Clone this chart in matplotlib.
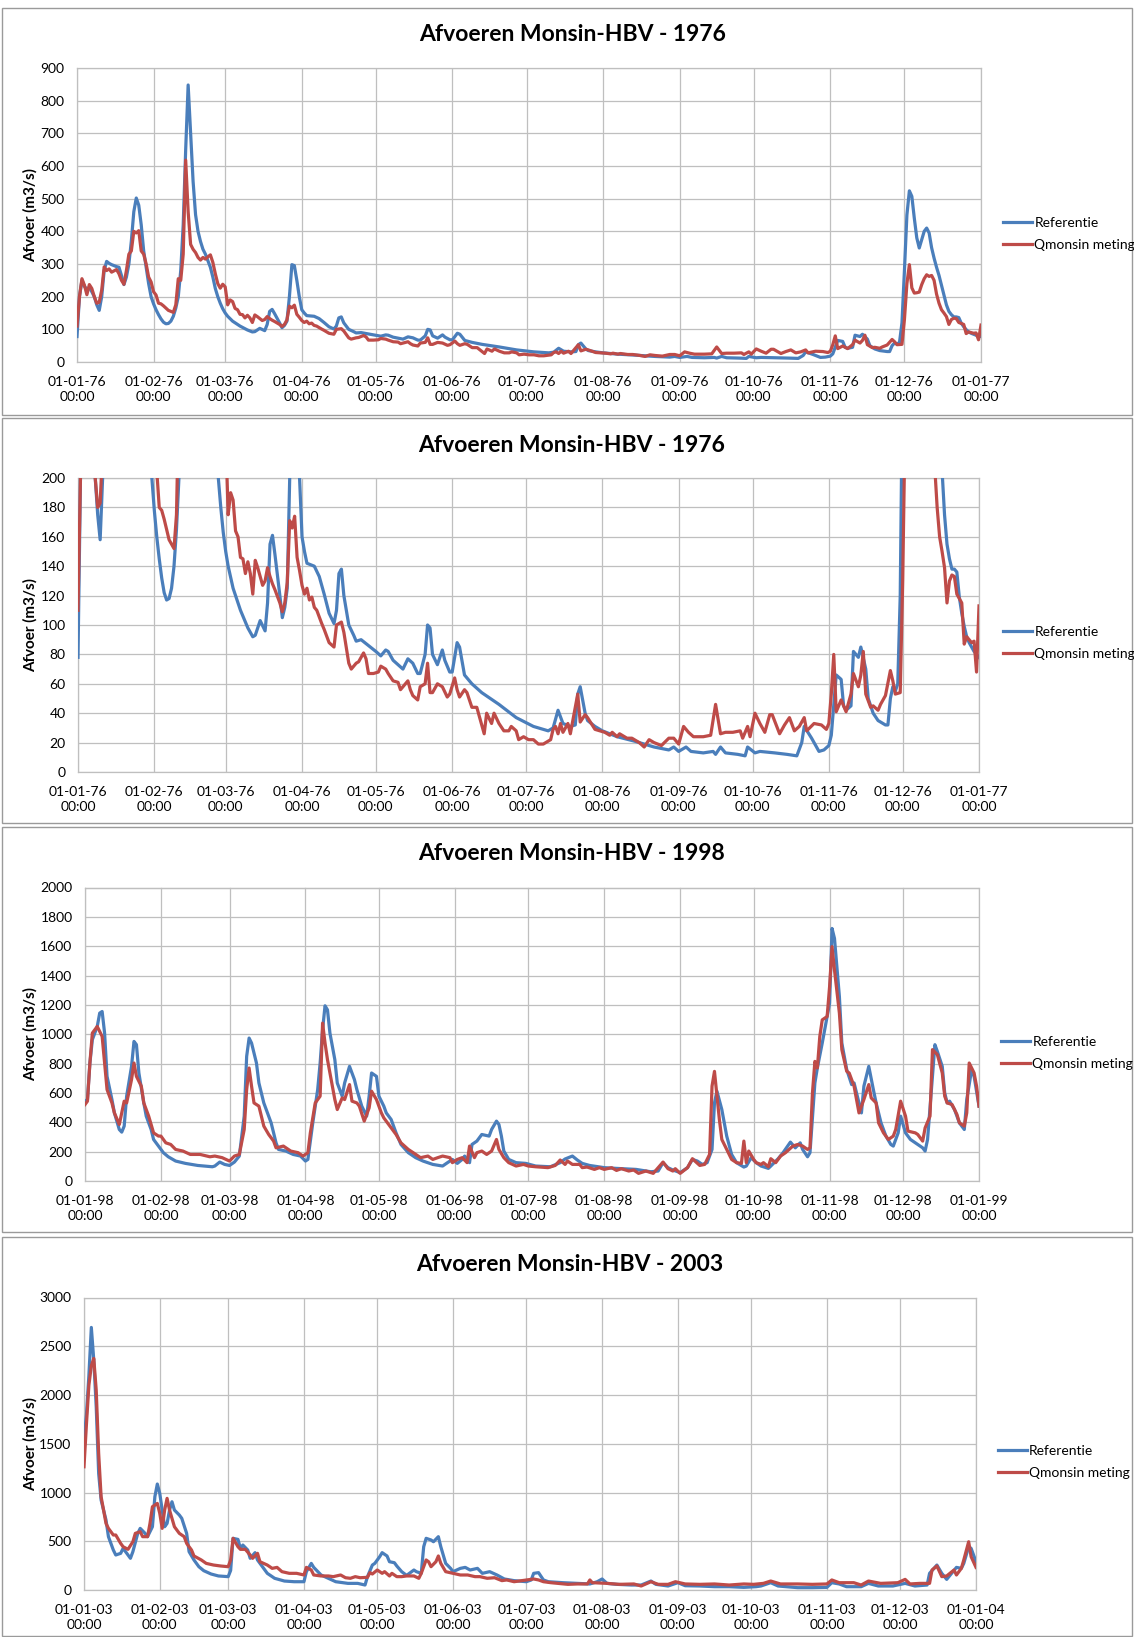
import numpy as np
import matplotlib
matplotlib.use("Agg")
import matplotlib.pyplot as plt
import matplotlib.dates as mdates
from matplotlib.patches import Rectangle

plt.rcParams['font.family'] = ['Lato', 'DejaVu Sans']

# ---------------- data (day offset from 1 Jan, discharge m3/s) ----------------
ref76_day = [0, 1, 2, 3, 4, 5, 6, 7, 8, 9, 10, 11, 12, 13, 14, 16, 17, 18, 19, 20, 21, 22, 23, 24, 25, 26, 27, 28, 29,
             30, 31, 32, 33, 34, 35, 36, 37, 38, 39, 40, 41, 42, 43, 44, 45, 46, 47, 48, 49, 50, 51, 52, 53, 54, 55, 56,
             57, 58, 59, 60, 61, 63, 66, 69, 71, 72, 74, 76, 77, 78, 79, 80, 82, 83, 84, 85, 86, 87, 88, 89, 90, 91, 92,
             93, 96, 98, 100, 102, 104, 105, 106, 107, 108, 110, 112, 113, 115, 118, 121, 123, 125, 126, 128, 132, 134,
             136, 138, 139, 141, 142, 143, 144, 146, 148, 149, 151, 152, 154, 155, 157, 160, 164, 171, 178, 185, 189,
             191, 193, 195, 197, 200, 202, 203, 204, 206, 207, 210, 213, 219, 226, 234, 240, 242, 244, 247, 249, 254,
             258, 259, 261, 263, 268, 271, 272, 275, 277, 283, 288, 292, 294, 295, 298, 301, 303, 305, 306, 308, 310,
             311, 312, 314, 315, 316, 317, 318, 320, 321, 323, 325, 328, 329, 330, 331, 332, 333, 334, 335, 336, 337,
             338, 339, 340, 341, 342, 343, 344, 345, 346, 347, 348, 349, 350, 351, 352, 353, 354, 355, 356, 357, 358,
             359, 360, 361, 362, 364, 366]
ref76_val = [78, 200, 250, 232, 222, 228, 215, 200, 175, 158, 200, 280, 308, 302, 298, 292, 290, 265, 237, 260, 300, 370,
             460, 502, 480, 420, 340, 290, 240, 200, 178, 160, 145, 132, 122, 117, 118, 125, 140, 165, 200, 280, 420, 650,
             848, 700, 553, 451, 400, 369, 345, 330, 310, 290, 260, 225, 200, 180, 163, 150, 140, 125, 110, 98, 92, 93,
             103, 96, 115, 155, 161, 148, 120, 105, 112, 125, 200, 298, 295, 250, 200, 160, 150, 142, 140, 133, 121, 108,
             101, 110, 135, 138, 120, 100, 93, 89, 90, 86, 82, 79, 83, 82, 76, 70, 77, 74, 67, 67, 80, 100, 98, 80, 73,
             83, 76, 68, 68, 88, 85, 66, 60, 54, 46, 37, 31, 29, 28, 30, 42, 33, 31, 32, 53, 58, 40, 35, 31, 28, 24, 21,
             17, 15, 17, 14, 17, 14, 13, 14, 12, 17, 13, 12, 11, 17, 13, 14, 13, 12, 11, 20, 31, 23, 14, 15, 18, 25, 66,
             63, 45, 42, 45, 82, 80, 78, 85, 70, 50, 40, 35, 32, 32, 50, 58, 55, 60, 120, 280, 450, 524, 507, 440, 380,
             349, 375, 400, 410, 395, 350, 318, 290, 265, 235, 206, 175, 155, 145, 138, 138, 136, 119, 108, 99, 92, 88,
             82, 78]

meas76_day = [0, 1, 2, 3, 4, 5, 6, 7, 8, 9, 10, 11, 12, 13, 14, 16, 17, 18, 19, 20, 21, 22, 23, 24, 25, 26, 27, 28, 29,
              30, 31, 32, 33, 34, 35, 36, 37, 38, 39, 40, 41, 42, 43, 44, 45, 46, 47, 48, 49, 50, 51, 52, 53, 54, 55,
              56, 57, 58, 59, 60, 61, 62, 63, 64, 65, 66, 67, 68, 69, 70, 71, 72, 73, 74, 75, 76, 77, 78, 79, 80, 82,
              83, 84, 85, 86, 87, 88, 89, 90, 91, 92, 93, 94, 95, 96, 97, 99, 100, 102, 104, 105, 107, 108, 110, 111,
              113, 114, 116, 117, 118, 120, 122, 123, 125, 126, 128, 130, 131, 134, 135, 136, 138, 139, 141, 142, 143,
              144, 146, 148, 150, 151, 153, 154, 155, 157, 158, 160, 162, 165, 166, 168, 169, 171, 173, 175, 176, 178,
              179, 181, 183, 185, 187, 189, 192, 193, 194, 195, 196, 197, 199, 200, 203, 204, 206, 207, 210, 212, 214,
              216, 217, 219, 220, 223, 225, 228, 230, 232, 234, 237, 240, 242, 244, 246, 248, 250, 254, 257, 259, 261,
              263, 266, 269, 270, 272, 273, 275, 277, 279, 281, 282, 285, 287, 289, 291, 293, 295, 296, 299, 302, 304,
              305, 306, 307, 308, 310, 312, 314, 315, 317, 318, 319, 320, 322, 323, 325, 326, 328, 330, 331, 332, 334,
              335, 336, 337, 338, 339, 340, 341, 342, 343, 344, 345, 346, 347, 348, 349, 350, 351, 352, 353, 354, 355,
              356, 357, 359, 360, 361, 363, 364, 365, 366]
meas76_val = [110, 200, 255, 235, 206, 237, 225, 200, 180, 183, 220, 291, 280, 285, 275, 283, 270, 250, 238, 280, 330,
              340, 400, 395, 402, 340, 330, 300, 260, 245, 215, 205, 180, 178, 172, 165, 158, 155, 152, 175, 255, 250,
              330, 618, 460, 360, 345, 335, 320, 312, 320, 315, 322, 328, 305, 270, 240, 226, 238, 230, 175, 190, 185,
              164, 160, 146, 145, 135, 143, 135, 121, 144, 139, 133, 127, 130, 139, 133, 128, 124, 115, 109, 115, 129,
              171, 166, 174, 146, 137, 127, 121, 125, 117, 119, 112, 110, 101, 97, 88, 85, 100, 102, 95, 74, 70, 74, 75,
              81, 77, 67, 67, 68, 72, 70, 67, 62, 61, 56, 62, 56, 52, 49, 58, 60, 74, 54, 54, 60, 58, 51, 53, 64, 56, 51,
              56, 54, 44, 44, 26, 40, 33, 40, 33, 28, 28, 31, 28, 22, 24, 22, 22, 19, 19, 22, 29, 31, 26, 33, 27, 33, 26,
              53, 34, 39, 37, 29, 28, 27, 25, 27, 24, 26, 23, 23, 20, 17, 22, 20, 18, 23, 23, 19, 31, 27, 24, 24, 25, 46,
              26, 27, 27, 28, 23, 31, 24, 40, 33, 27, 39, 39, 26, 32, 37, 28, 31, 37, 28, 33, 32, 29, 33, 53, 80, 41, 49,
              41, 53, 67, 58, 66, 82, 53, 44, 45, 42, 46, 52, 69, 62, 53, 54, 130, 240, 298, 227, 211, 212, 214, 237,
              255, 267, 262, 265, 250, 208, 180, 160, 150, 139, 115, 130, 134, 133, 121, 115, 87, 92, 88, 89, 68, 113]

ref98_day = [0, 1, 2, 3, 5, 6, 7, 8, 9, 11, 12, 14, 15, 16, 17, 19, 20, 21, 22, 24, 25, 27, 28, 30, 32, 34, 37, 41, 46,
             52, 53, 55, 57, 59, 61, 63, 65, 66, 67, 68, 70, 71, 73, 76, 78, 79, 82, 85, 88, 90, 91, 93, 95, 96, 97, 98,
             99, 100, 102, 103, 105, 106, 108, 110, 111, 113, 115, 116, 117, 119, 120, 122, 123, 125, 127, 129, 132,
             135, 138, 142, 146, 148, 150, 152, 154, 155, 157, 158, 160, 162, 165, 166, 168, 169, 170, 171, 173, 176,
             180, 184, 190, 194, 196, 199, 201, 203, 206, 212, 217, 225, 231, 234, 236, 238, 240, 243, 246, 248, 250,
             252, 254, 256, 257, 258, 260, 262, 264, 266, 269, 270, 272, 274, 276, 279, 280, 283, 285, 288, 290, 292,
             293, 295, 296, 298, 299, 301, 303, 304, 305, 306, 308, 309, 311, 313, 314, 316, 317, 318, 320, 322, 323,
             325, 327, 329, 330, 332, 333, 335, 337, 340, 342, 343, 344, 346, 347, 348, 350, 351, 352, 353, 355, 357,
             359, 360, 362, 363, 365]
ref98_val = [544, 555, 804, 963, 1053, 1144, 1155, 1008, 713, 555, 464, 351, 333, 374, 578, 781, 951, 929, 736, 532, 442,
             351, 283, 238, 193, 165, 136, 120, 106, 97, 102, 129, 113, 106, 129, 170, 442, 849, 974, 940, 804, 668, 532,
             396, 260, 215, 204, 181, 170, 136, 147, 396, 623, 804, 1031, 1194, 1166, 1008, 827, 668, 578, 668, 781, 691,
             623, 510, 442, 578, 736, 713, 578, 510, 464, 419, 328, 249, 193, 159, 136, 113, 102, 125, 147, 120, 147,
             170, 125, 249, 272, 317, 306, 351, 408, 385, 306, 204, 147, 125, 120, 102, 97, 125, 150, 170, 143, 120, 106,
             91, 86, 79, 63, 68, 125, 91, 75, 57, 91, 147, 136, 113, 125, 215, 532, 612, 487, 306, 181, 125, 95, 102,
             159, 125, 102, 86, 102, 152, 193, 265, 226, 260, 215, 165, 193, 668, 770, 940, 1121, 1212, 1721, 1653,
             1257, 940, 759, 657, 668, 532, 464, 646, 781, 612, 532, 396, 306, 249, 238, 328, 442, 328, 283, 249, 226,
             204, 283, 713, 929, 883, 781, 600, 532, 544, 487, 396, 351, 555, 759, 713, 510]

meas98_day = [0, 1, 2, 3, 4, 5, 7, 8, 9, 11, 12, 14, 16, 17, 19, 20, 21, 23, 24, 26, 28, 30, 31, 33, 35, 37, 40, 43, 47,
              51, 53, 56, 59, 61, 63, 65, 66, 67, 68, 69, 71, 73, 75, 77, 78, 81, 84, 87, 89, 91, 92, 94, 96, 97, 98,
              99, 100, 102, 103, 105, 106, 108, 109, 111, 112, 114, 116, 117, 119, 121, 122, 124, 127, 129, 132, 134,
              137, 140, 142, 144, 146, 149, 150, 152, 154, 156, 157, 159, 160, 162, 164, 166, 168, 169, 171, 173, 176,
              179, 181, 184, 189, 192, 194, 196, 197, 199, 202, 203, 205, 208, 210, 212, 215, 217, 219, 222, 224, 226,
              229, 232, 236, 238, 240, 241, 243, 246, 248, 249, 251, 253, 255, 256, 257, 259, 260, 262, 264, 266, 268,
              269, 270, 271, 273, 274, 276, 277, 279, 280, 282, 284, 286, 289, 291, 293, 295, 296, 297, 298, 299, 300,
              301, 303, 304, 305, 306, 308, 309, 311, 312, 314, 315, 316, 318, 320, 321, 323, 324, 326, 328, 330, 331,
              333, 335, 336, 339, 340, 342, 343, 345, 346, 348, 350, 351, 352, 354, 356, 357, 359, 360, 361, 363, 364,
              365]
meas98_val = [521, 544, 804, 1008, 1031, 1053, 985, 804, 623, 532, 464, 385, 544, 532, 691, 804, 713, 646, 532, 442, 328,
              306, 306, 260, 249, 215, 204, 181, 181, 165, 170, 159, 136, 170, 181, 351, 623, 770, 646, 532, 510, 374,
              317, 272, 226, 238, 204, 193, 170, 193, 328, 532, 578, 1076, 940, 827, 736, 555, 487, 566, 555, 657, 544,
              532, 510, 408, 498, 612, 555, 464, 430, 385, 317, 260, 215, 193, 159, 170, 147, 159, 170, 159, 125, 147,
              159, 125, 238, 159, 193, 204, 181, 204, 283, 215, 159, 125, 102, 113, 102, 97, 91, 106, 143, 113, 136, 113,
              113, 91, 95, 79, 91, 79, 91, 72, 84, 68, 75, 52, 68, 52, 129, 84, 68, 84, 52, 91, 152, 136, 106, 113, 181,
              646, 747, 419, 283, 215, 147, 125, 120, 272, 125, 204, 147, 125, 113, 125, 97, 152, 125, 170, 193, 238,
              249, 238, 215, 226, 600, 815, 770, 985, 1098, 1121, 1325, 1597, 1438, 1144, 895, 747, 736, 646, 555, 464,
              555, 657, 566, 532, 396, 328, 283, 306, 351, 544, 442, 340, 328, 317, 272, 362, 442, 895, 861, 736, 578,
              532, 521, 453, 396, 374, 464, 804, 736, 646, 510]

ref03_day = [0, 1, 2, 3, 4, 5, 6, 7, 9, 10, 12, 13, 15, 16, 18, 19, 20, 22, 23, 25, 26, 28, 29, 30, 31, 33, 34, 35, 36,
             37, 39, 40, 42, 43, 45, 47, 49, 52, 55, 59, 60, 61, 63, 64, 65, 67, 68, 70, 71, 73, 75, 78, 82, 86, 90, 91,
             93, 94, 97, 100, 103, 108, 112, 115, 116, 118, 119, 121, 122, 124, 125, 127, 128, 130, 132, 135, 136, 138,
             139, 140, 142, 143, 145, 146, 148, 150, 151, 154, 156, 158, 161, 163, 166, 169, 172, 176, 181, 183, 184,
             186, 188, 190, 196, 202, 207, 210, 212, 214, 218, 224, 228, 232, 234, 239, 243, 246, 252, 258, 264, 270,
             275, 277, 281, 284, 292, 298, 304, 306, 309, 312, 318, 321, 325, 331, 336, 340, 345, 346, 349, 351, 353,
             355, 357, 359, 360, 362, 363, 365]
ref03_val = [1538, 1800, 2200, 2693, 2358, 1879, 1196, 923, 718, 547, 410, 359, 376, 427, 359, 325, 393, 581, 632, 581,
             547, 649, 957, 1087, 991, 649, 683, 820, 905, 820, 769, 735, 581, 393, 308, 239, 198, 164, 144, 137, 200,
             530, 519, 427, 461, 410, 325, 383, 308, 239, 171, 120, 92, 85, 85, 188, 273, 232, 154, 120, 85, 68, 68, 51,
             137, 256, 273, 342, 383, 349, 290, 280, 246, 188, 150, 205, 188, 171, 444, 530, 513, 495, 547, 444, 273,
             222, 188, 222, 232, 205, 222, 171, 188, 154, 113, 96, 85, 103, 171, 178, 103, 85, 75, 68, 62, 85, 113, 68,
             58, 51, 51, 92, 58, 41, 75, 44, 41, 34, 34, 27, 34, 41, 75, 41, 24, 24, 27, 75, 62, 34, 34, 68, 41, 41, 68,
             41, 51, 171, 256, 171, 109, 171, 232, 222, 273, 444, 427, 290]

meas03_day = [0, 1, 2, 3, 4, 5, 6, 7, 9, 10, 12, 13, 15, 16, 18, 20, 21, 23, 24, 26, 27, 28, 30, 31, 32, 33, 34, 35, 37,
              38, 39, 41, 42, 44, 45, 48, 50, 53, 56, 59, 60, 61, 63, 64, 66, 68, 69, 71, 72, 75, 77, 79, 81, 84, 87,
              90, 91, 93, 94, 97, 100, 102, 105, 107, 109, 111, 113, 116, 117, 118, 120, 122, 123, 125, 126, 128, 130,
              132, 135, 137, 138, 140, 141, 142, 144, 145, 146, 148, 151, 154, 157, 160, 162, 165, 168, 171, 173, 176,
              178, 181, 184, 186, 188, 191, 194, 198, 202, 206, 207, 208, 214, 219, 225, 228, 232, 235, 239, 242, 246,
              252, 258, 264, 270, 274, 278, 281, 285, 292, 298, 304, 306, 309, 315, 318, 321, 326, 333, 336, 338, 342,
              346, 347, 349, 351, 353, 356, 357, 359, 360, 362, 363, 365]
meas03_val = [1264, 1700, 2100, 2300, 2375, 2050, 1401, 957, 683, 632, 564, 564, 478, 444, 417, 495, 581, 598, 547, 547,
              683, 854, 888, 786, 632, 820, 940, 820, 649, 615, 581, 547, 478, 410, 349, 308, 273, 256, 246, 239, 308,
              530, 444, 417, 417, 359, 325, 376, 290, 256, 222, 232, 188, 171, 171, 154, 232, 205, 154, 144, 144, 137,
              154, 126, 120, 137, 126, 130, 178, 164, 205, 171, 188, 144, 171, 137, 137, 144, 144, 120, 171, 308, 290,
              239, 290, 349, 273, 188, 171, 154, 154, 137, 137, 120, 126, 96, 103, 85, 92, 103, 113, 103, 85, 75, 68, 58,
              62, 62, 103, 75, 68, 58, 62, 41, 85, 58, 58, 85, 62, 58, 62, 51, 62, 58, 68, 92, 62, 62, 58, 62, 103, 75,
              75, 51, 92, 68, 75, 109, 62, 68, 68, 205, 246, 137, 144, 205, 154, 222, 308, 495, 342, 232]

titles = ["Afvoeren Monsin-HBV - 1976", "Afvoeren Monsin-HBV - 1976",
          "Afvoeren Monsin-HBV - 1998", "Afvoeren Monsin-HBV - 2003"]
years = [1976, 1976, 1998, 2003]
y_max = [900, 200, 2000, 3000]
y_step = [100, 20, 200, 500]
series_ref = [(ref76_day, ref76_val), (ref76_day, ref76_val), (ref98_day, ref98_val), (ref03_day, ref03_val)]
series_meas = [(meas76_day, meas76_val), (meas76_day, meas76_val), (meas98_day, meas98_val), (meas03_day, meas03_val)]
legend_labels = ['Referentie', 'Qmonsin meting']
ylabel = 'Afvoer (m3/s)'

# ---------------- layout (pixels) ----------------
W, H = 1134, 1637
fig = plt.figure(figsize=(W / 100, H / 100), dpi=100)

axes_px = [(77, 981, 68, 362), (78, 979, 478, 772), (85, 979, 887.5, 1181), (84, 976, 1297.5, 1590)]
borders_px = [(2, 8, 1132, 415), (2, 418, 1132, 823), (2, 827, 1132, 1232), (2, 1237, 1132, 1636)]
title_px = [(573, 34.5), (572, 445), (572, 854), (570, 1264.5)]
legend_px = [(1003, 234), (1003, 643), (1001, 1053), (998, 1462)]

BLUE = '#4A7EBB'
RED = '#BE4B48'
GRID = '#BFBFBF'

for k in range(4):
    bl, bt, br, bb = borders_px[k]
    fig.patches.append(Rectangle((bl / W, 1 - bb / H), (br - bl) / W, (bb - bt) / H, transform=fig.transFigure,
                                 fill=False, edgecolor='#9a9a9a', linewidth=1.0))
    l, r, t, b = axes_px[k]
    ax = fig.add_axes([l / W, 1 - b / H, (r - l) / W, (b - t) / H])
    base = np.datetime64(f"{years[k]}-01-01")
    end = np.datetime64(f"{years[k] + 1}-01-01")
    rd, rv = series_ref[k]
    md, mv = series_meas[k]
    ax.plot(base + np.array(rd, dtype='timedelta64[D]'), rv, color=BLUE, lw=2.3, label=legend_labels[0],
            solid_joinstyle='round', zorder=3)
    ax.plot(base + np.array(md, dtype='timedelta64[D]'), mv, color=RED, lw=2.3, label=legend_labels[1],
            solid_joinstyle='round', zorder=4)
    ax.set_xlim(base, end)
    ax.set_ylim(0, y_max[k])
    ax.set_yticks(np.arange(0, y_max[k] + 1, y_step[k]))
    ax.xaxis.set_major_locator(mdates.MonthLocator(bymonthday=1))
    ax.xaxis.set_major_formatter(mdates.DateFormatter('%d-%m-%y\n%H:%M'))
    ax.grid(True, color=GRID, lw=0.9)
    ax.set_axisbelow(True)
    for s in ax.spines.values():
        s.set_color(GRID)
        s.set_linewidth(0.9)
    ax.tick_params(axis='both', length=0, labelsize=10, colors='#000000')
    ax.tick_params(axis='x', pad=10)
    ax.tick_params(axis='y', pad=9)
    for lab in ax.get_xticklabels():
        lab.set_multialignment('center')
        lab.set_linespacing(1.3)
    fig.text(title_px[k][0] / W, 1 - title_px[k][1] / H, titles[k], ha='center', va='center',
             fontsize=16.5, fontweight='bold')
    fig.text(30 / W, 1 - (t + b) / 2 / H, ylabel, rotation=90, ha='center', va='center',
             fontsize=11, fontweight='bold')
    lx, ly = legend_px[k]
    fig.legend(handles=ax.get_lines(), loc='center left', bbox_to_anchor=(lx / W, 1 - ly / H),
               frameon=False, fontsize=10, borderpad=0, borderaxespad=0, handlelength=2.1,
               handletextpad=0.15, labelspacing=0.75)

fig.savefig('out.png', dpi=100)
